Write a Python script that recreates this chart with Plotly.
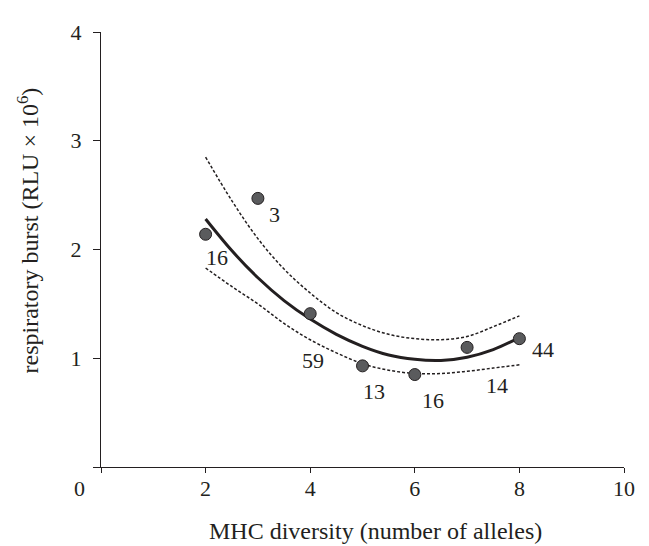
import plotly.graph_objects as go

# ---- data ----
alleles = [2, 3, 4, 5, 6, 7, 8]
burst = [2.14, 2.47, 1.41, 0.93, 0.85, 1.10, 1.18]
sample_sizes = ["16", "3", "59", "13", "16", "14", "44"]

fit_x = [2, 2.5, 3, 3.5, 4, 4.5, 5, 5.5, 6, 6.5, 7, 7.5, 8]
fit_y = [2.28, 1.99, 1.74, 1.53, 1.36, 1.22, 1.11, 1.03, 0.99, 0.98, 1.01, 1.08, 1.19]
upper_y = [2.85, 2.45, 2.10, 1.82, 1.60, 1.42, 1.30, 1.22, 1.18, 1.17, 1.20, 1.29, 1.39]
lower_y = [1.83, 1.66, 1.50, 1.32, 1.17, 1.05, 0.95, 0.89, 0.86, 0.86, 0.88, 0.91, 0.94]

x_ticks = [0, 2, 4, 6, 8, 10]
x_ticktext = ["", "2", "4", "6", "8", "10"]
y_ticks = [0, 1, 2, 3, 4]
y_ticktext = ["", "1", "2", "3", "4"]

# ---- style ----
INK = "#231f20"
FONT = "Liberation Serif"
label_shift = [(11, -23), (17, -16), (3, -47), (11, -26), (18, -26), (30, -38), (24, -11)]

fig = go.Figure()
for ys in (upper_y, lower_y):
    fig.add_trace(go.Scatter(x=fit_x, y=ys, mode="lines", line_shape="spline",
                             line=dict(color=INK, width=1.5, dash="3px,2px"),
                             hoverinfo="skip"))
fig.add_trace(go.Scatter(x=fit_x, y=fit_y, mode="lines", line_shape="spline",
                         line=dict(color=INK, width=3), hoverinfo="skip"))
fig.add_trace(go.Scatter(x=alleles, y=burst, mode="markers",
                         marker=dict(size=12, color="#5a5b5d",
                                     line=dict(color=INK, width=1))))

for xv, yv, t, (dx, dy) in zip(alleles, burst, sample_sizes, label_shift):
    fig.add_annotation(x=xv, y=yv, text=t, showarrow=False, xshift=dx, yshift=dy,
                       font=dict(family=FONT, size=22, color=INK))

fig.add_annotation(x=0, y=0, text="0", showarrow=False, xshift=-22, yshift=-21,
                   font=dict(family=FONT, size=22, color=INK))
fig.add_annotation(x=0.5, y=0, xref="paper", yref="paper",
                   text="MHC diversity (number of alleles)",
                   xanchor="center", yanchor="middle",
                   showarrow=False, xshift=13, yshift=-64,
                   font=dict(family=FONT, size=24, color=INK))
fig.add_annotation(x=0, y=0.5, xref="paper", yref="paper",
                   text="respiratory burst (RLU × 10<sup>6</sup>)", textangle=-90,
                   xanchor="center", yanchor="middle",
                   showarrow=False, xshift=-74, yshift=19,
                   font=dict(family=FONT, size=24, color=INK))

fig.update_layout(
    width=641, height=538,
    margin=dict(l=93, r=25, t=14, b=79),
    paper_bgcolor="white", plot_bgcolor="white",
    showlegend=False,
    font=dict(family=FONT, size=22, color=INK),
)
fig.update_xaxes(range=[0, 10], tickvals=x_ticks, ticktext=x_ticktext,
                 ticks="outside", ticklen=5, tickwidth=1.2, tickcolor=INK,
                 showline=True, linecolor=INK, linewidth=1.2,
                 tickfont=dict(family=FONT, size=22, color=INK),
                 ticklabelstandoff=-4,
                 showgrid=False, zeroline=False)
fig.update_yaxes(range=[0, 4], tickvals=y_ticks, ticktext=y_ticktext,
                 ticks="outside", ticklen=7, tickwidth=1.2, tickcolor=INK,
                 showline=True, linecolor=INK, linewidth=1.2,
                 tickfont=dict(family=FONT, size=22, color=INK),
                 ticklabelstandoff=7,
                 showgrid=False, zeroline=False)

fig.write_html("out.html")
